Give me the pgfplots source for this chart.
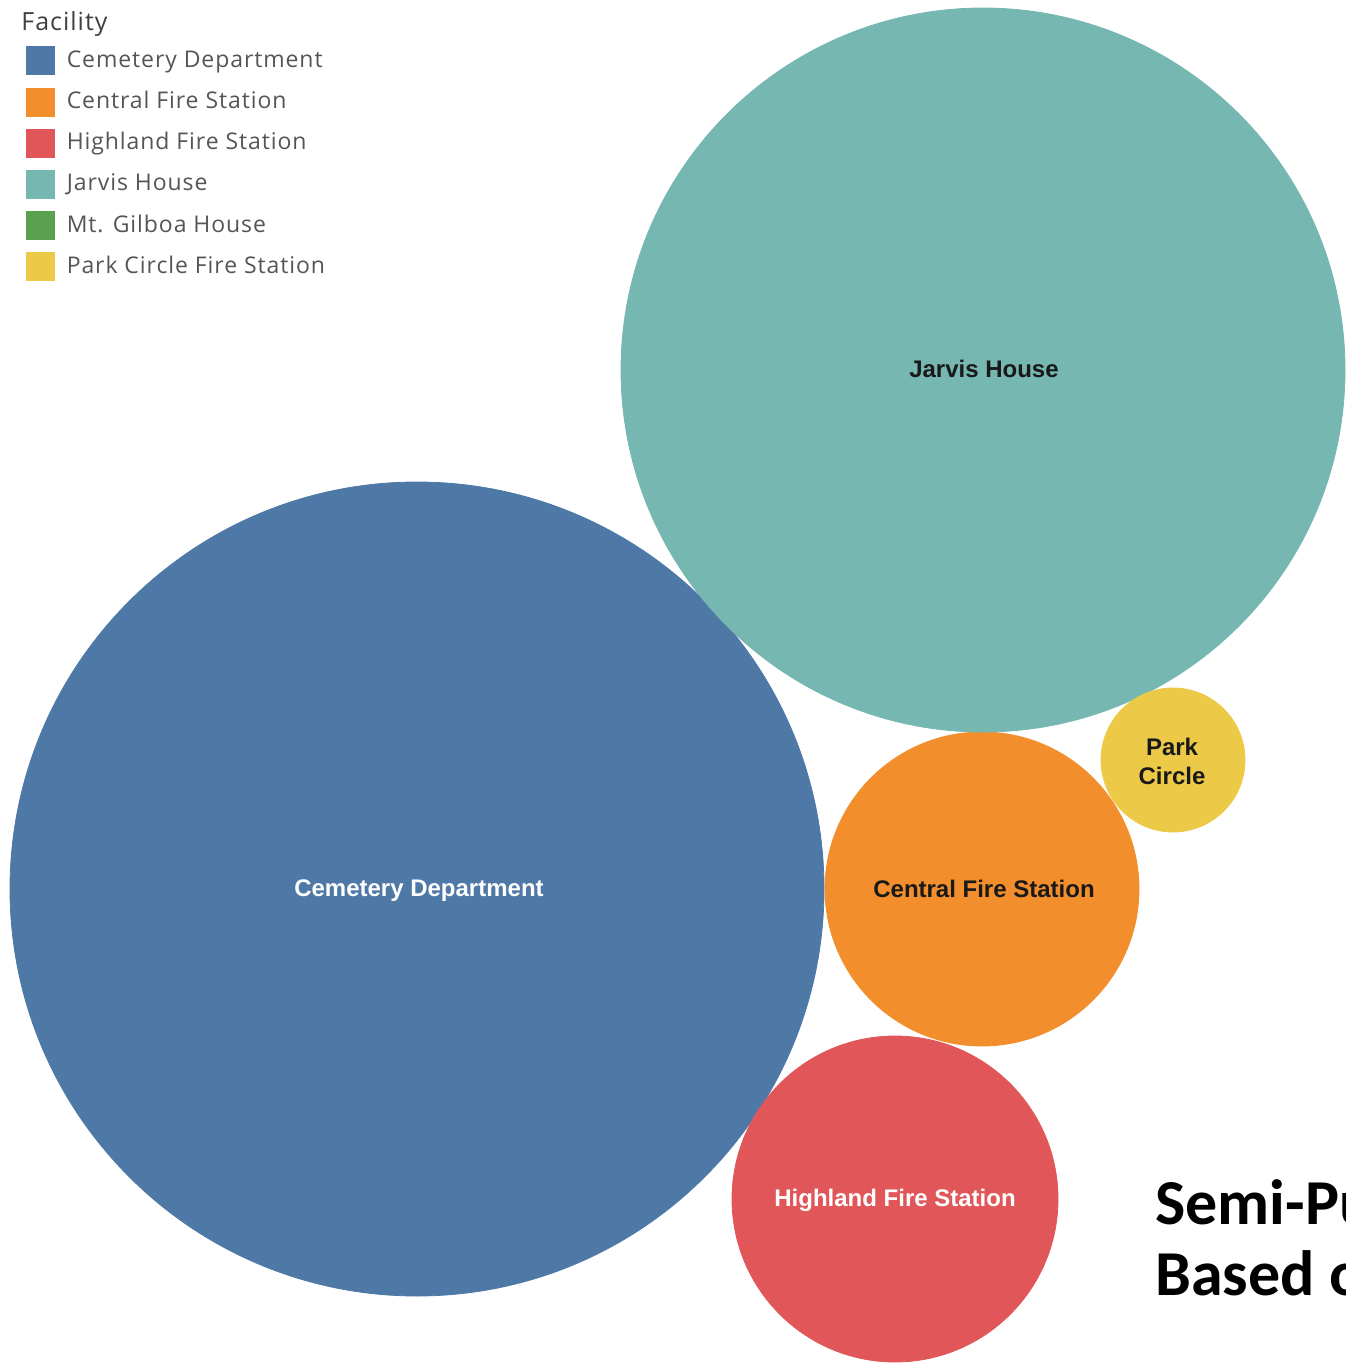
\documentclass[border=0pt]{standalone}
\usepackage{pgfplots}
\pgfplotsset{compat=1.18}
\usepackage{pgfplotstable}
\usepackage{fontspec}
\setmainfont{Liberation Sans}
\newfontfamily\legfont[LetterSpace=4]{Open Sans}
\newfontfamily\titlefont{Carlito}

\definecolor{cemblue}{RGB}{78,121,167}
\definecolor{cenorange}{RGB}{242,142,43}
\definecolor{hilred}{RGB}{225,87,89}
\definecolor{jarteal}{RGB}{118,183,178}
\definecolor{gilgreen}{RGB}{89,161,79}
\definecolor{parkyellow}{RGB}{237,201,72}
\definecolor{legtext}{RGB}{85,85,85}
\definecolor{labdark}{RGB}{25,25,25}

% bubble centres and radii, in pixels of the original picture
\pgfplotstableread{
x y r
417 889 407
}\cemetery
\pgfplotstableread{
x y r
982 889 157
}\central
\pgfplotstableread{
x y r
895 1199 163
}\highland
\pgfplotstableread{
x y r
983 370 362
}\jarvis
\pgfplotstableread{
x y r
1173 760 72
}\parkcircle

\pgfplotsset{
  bubble/.style={
    only marks, scatter, mark=*, color=#1,
    scatter/use mapped color={draw=none, fill=#1},
    point meta=\thisrow{r},
    visualization depends on={\thisrow{r}\as\rpx},
    scatter/@pre marker code/.append style={/tikz/mark size=0.5*\rpx},
    legend image code/.code={\fill[#1] (0pt,-7pt) rectangle (14pt,7pt); \path (20pt,0pt);}
  }
}
\tikzset{bublabel/.style={font=\fontsize{12}{14.5}\selectfont\bfseries,
  align=center, inner sep=0pt}}

\begin{document}
\begin{tikzpicture}
\begin{axis}[
  name=ax,
  scale only axis,
  width=672.5pt, height=681.5pt,
  xmin=0, xmax=1345, ymin=0, ymax=1363,
  y dir=reverse,
  hide axis,
  clip=false,
  clip marker paths=true,
  legend cell align=left,
  legend style={
    at={(0.0193,0.966)}, anchor=north west,
    draw=none, fill=none, inner sep=0pt, outer sep=0pt,
    row sep=6.2pt,
    font=\legfont\fontsize{11.5}{13}\selectfont, text=legtext,
    nodes={inner sep=0pt, text height=8.5pt, text depth=2pt}
  },
]
\addplot[bubble=cemblue] table {\cemetery};
\addlegendentry{Cemetery Department}
\addplot[bubble=cenorange] table {\central};
\addlegendentry{Central Fire Station}
\addplot[bubble=hilred] table {\highland};
\addlegendentry{Highland Fire Station}
\addplot[bubble=jarteal] table {\jarvis};
\addlegendentry{Jarvis House}
\addlegendimage{bubble=gilgreen}
\addlegendentry{Mt. Gilboa House}
\addplot[bubble=parkyellow] table {\parkcircle};
\addlegendentry{Park Circle Fire Station}

\node[bublabel, text=labdark] at (axis cs:984,369) {Jarvis House};
\node[bublabel, text=white] at (axis cs:419,891) {Cemetery Department};
\node[bublabel, text=labdark] at (axis cs:984,889) {Central Fire Station};
\node[bublabel, text=white] at (axis cs:895,1200) {Highland Fire Station};
\node[bublabel, text=labdark] at (axis cs:1172,761) {Park\\Circle};

\node[anchor=west, inner sep=0pt, font=\legfont\fontsize{12.5}{14}\selectfont, text=black!75]
  at (axis cs:21,24) {Facility};

\node[anchor=base west, inner sep=0pt, align=left,
  font=\titlefont\bfseries\fontsize{32}{35.5}\selectfont]
  at (axis cs:1155,1295) {Semi-Public Facilities\\Based on};
\end{axis}
\pgfresetboundingbox
\path[use as bounding box] (ax.south west) rectangle (ax.north east);
\end{tikzpicture}
\end{document}
